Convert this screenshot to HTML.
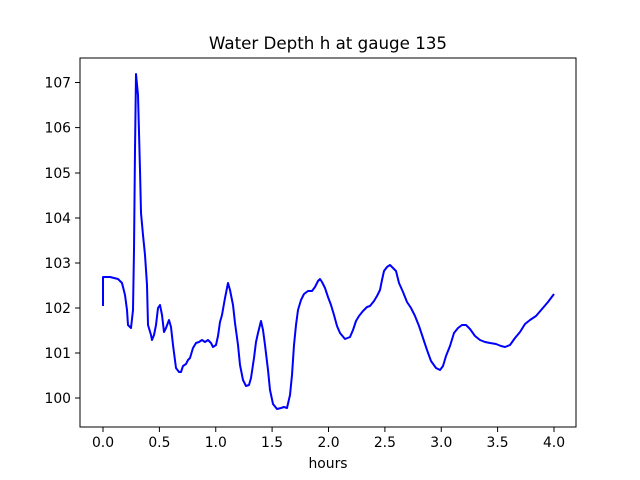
<!DOCTYPE html>
<html><head><style>body{margin:0;background:#fff}svg{display:block}text{font-family:"DejaVu Sans","Liberation Sans",sans-serif;font-size:13.9px;fill:#000}</style></head><body>
<svg width="640" height="480" xmlns="http://www.w3.org/2000/svg">
<rect width="640" height="480" fill="#fff"/>
<polyline fill="none" stroke="#0000ff" stroke-width="2" stroke-linejoin="round" points="103,306 103,277 110,277 118,279 122,283 125,295 127,310 128,325 131,328 133,310 134,250 135,150 136,74 138,95 140,170 141,213 143,235 145,255 147,285 148,325 151,335 152,340 154,335 156,325 158,308 160,305 162,315 164,332 166,328 169,320 171,327 173,345 176,368 179,372 181,372 183,366 186,364 188,360 190,358 193,348 196,343 199,342 202,340 205,342 208,340 211,343 213,347 216,345 218,336 220,322 222,315 225,298 228,283 230,290 233,305 235,323 238,345 240,365 243,380 246,386 249,385 251,378 254,358 256,342 258,333 261,321 263,330 265,345 268,370 270,390 273,404 277,409 281,408 284,407 287,408 290,395 292,375 294,345 296,325 298,310 301,300 304,294 308,291 312,291 315,287 318,281 320,279 322,282 325,288 328,297 331,305 334,315 337,326 340,333 345,339 350,337 353,330 356,321 359,316 363,311 367,307 370,306 374,301 377,296 380,290 382,280 384,271 387,267 390,265 392,267 396,271 399,283 403,292 407,302 411,308 415,316 419,326 423,338 427,350 431,361 436,368 440,370 443,366 446,356 450,346 454,333 458,328 462,325 466,325 470,329 475,336 480,340 485,342 490,343 496,344 501,346 505,347 510,345 515,338 520,332 525,324 530,320 536,316 542,309 548,302 554,294"/>
<rect x="80" y="58" width="496" height="369" fill="none" stroke="#000" stroke-width="1"/>
<g stroke="#000" stroke-width="1">
<line x1="103" y1="427" x2="103" y2="432"/><line x1="159.4" y1="427" x2="159.4" y2="432"/><line x1="215.75" y1="427" x2="215.75" y2="432"/><line x1="272.1" y1="427" x2="272.1" y2="432"/><line x1="328.5" y1="427" x2="328.5" y2="432"/><line x1="384.9" y1="427" x2="384.9" y2="432"/><line x1="441.25" y1="427" x2="441.25" y2="432"/><line x1="497.6" y1="427" x2="497.6" y2="432"/><line x1="554" y1="427" x2="554" y2="432"/>
<line x1="75" y1="398" x2="80" y2="398"/><line x1="75" y1="353" x2="80" y2="353"/><line x1="75" y1="308" x2="80" y2="308"/><line x1="75" y1="263" x2="80" y2="263"/><line x1="75" y1="218" x2="80" y2="218"/><line x1="75" y1="173" x2="80" y2="173"/><line x1="75" y1="127.6" x2="80" y2="127.6"/><line x1="75" y1="82.5" x2="80" y2="82.5"/>
</g>
<g text-anchor="middle">
<text x="103" y="447">0.0</text><text x="159.4" y="447">0.5</text><text x="215.75" y="447">1.0</text><text x="272.1" y="447">1.5</text><text x="328.5" y="447">2.0</text><text x="384.9" y="447">2.5</text><text x="441.25" y="447">3.0</text><text x="497.6" y="447">3.5</text><text x="554" y="447">4.0</text>
<text x="328" y="468">hours</text>
<text x="328" y="49" style="font-size:16.7px">Water Depth h at gauge 135</text>
</g>
<g text-anchor="end">
<text x="71" y="403">100</text><text x="71" y="358">101</text><text x="71" y="313">102</text><text x="71" y="268">103</text><text x="71" y="223">104</text><text x="71" y="178">105</text><text x="71" y="132.6">106</text><text x="71" y="87.5">107</text>
</g>
</svg>
</body></html>
